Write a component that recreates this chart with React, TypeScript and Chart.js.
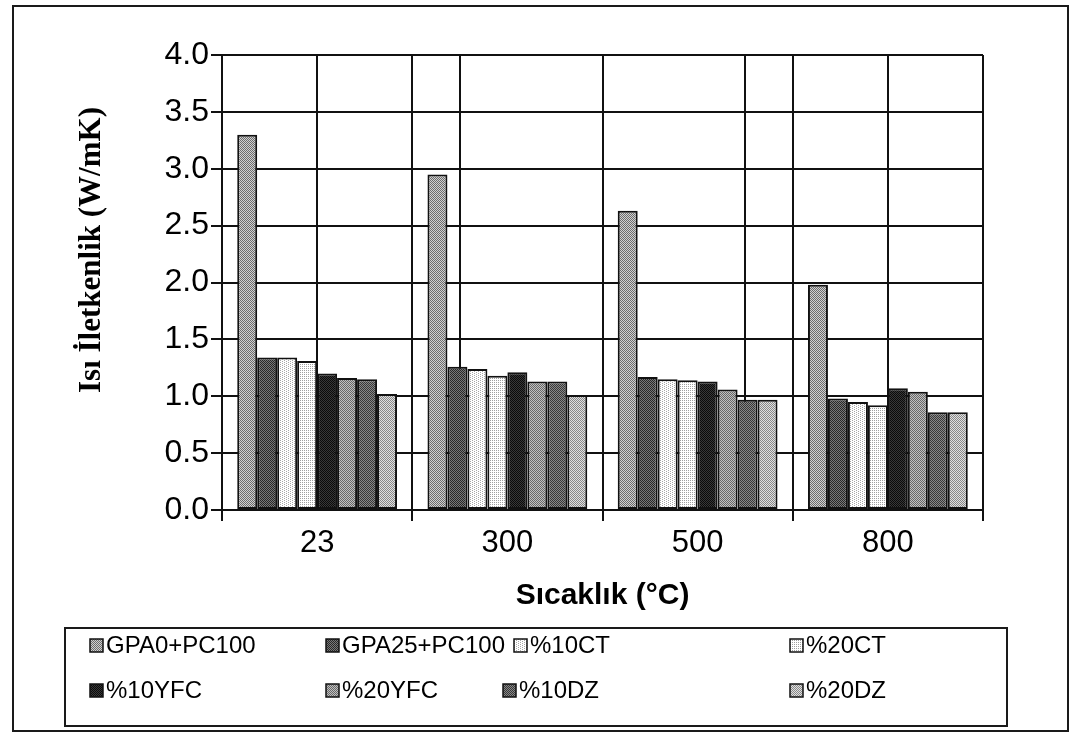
import React, { useEffect, useRef } from "react";
import { Chart, registerables } from "chart.js";

Chart.register(...registerables);

// ---- data ----
const categories = ["23", "300", "500", "800"];
const seriesNames = ["GPA0+PC100", "GPA25+PC100", "%10CT", "%20CT", "%10YFC", "%20YFC", "%10DZ", "%20DZ"];
const gpa0 = [3.3, 2.95, 2.63, 1.98];
const gpa25 = [1.34, 1.26, 1.17, 0.98];
const ct10 = [1.34, 1.24, 1.15, 0.95];
const ct20 = [1.31, 1.18, 1.14, 0.92];
const yfc10 = [1.2, 1.21, 1.13, 1.07];
const yfc20 = [1.16, 1.13, 1.06, 1.04];
const dz10 = [1.15, 1.13, 0.97, 0.86];
const dz20 = [1.02, 1.01, 0.97, 0.86];
const yTicks = [0, 0.5, 1, 1.5, 2, 2.5, 3, 3.5, 4];
const yTitle = "Isı İletkenlik (W/mK)";
const xTitle = "Sıcaklık (°C)";

// dither styles: [base, dot, mode]
const patternDefs: [string, string, string][] = [
  ["#d0d0d0", "#6c6c6c", "checker"],
  ["#787878", "#282828", "checker"],
  ["#ffffff", "#a8a8a8", "sparse8"],
  ["#ffffff", "#a0a0a0", "sparse4"],
  ["#383838", "#0a0a0a", "checker"],
  ["#c0c0c0", "#686868", "checker"],
  ["#888888", "#383838", "checker"],
  ["#e0e0e0", "#888888", "checker"],
];

function makePattern(ctx: CanvasRenderingContext2D, base: string, dot: string, mode: string) {
  const c = document.createElement("canvas");
  c.width = 4;
  c.height = 4;
  const g = c.getContext("2d")!;
  g.fillStyle = base;
  g.fillRect(0, 0, 4, 4);
  g.fillStyle = dot;
  for (let y = 0; y < 4; y++) {
    for (let x = 0; x < 4; x++) {
      let on = false;
      if (mode === "checker") on = (x + y) % 2 === 0;
      else if (mode === "sparse4") on = x % 2 === 0 && y % 2 === 0;
      else if (mode === "sparse8") on = (x % 4 === 0 && y % 2 === 0) || (x % 4 === 2 && y % 2 === 1);
      if (on) g.fillRect(x, y, 1, 1);
    }
  }
  return ctx.createPattern(c, "repeat")!;
}

const FONT_SANS = '"Liberation Sans", Arial, sans-serif';
const FONT_SERIF = '"Liberation Serif", "Times New Roman", serif';

const legendCols = [
  [90, 326, 514, 790],
  [90, 326, 503, 790],
];
const legendRows = [645, 690];

const frameLegendPlugin = {
  id: "frameLegend",
  beforeDraw(chart: any) {
    const ctx = chart.ctx;
    ctx.save();
    ctx.fillStyle = "#ffffff";
    ctx.fillRect(0, 0, chart.width, chart.height);
    ctx.restore();
  },
  afterDraw(chart: any) {
    const ctx = chart.ctx as CanvasRenderingContext2D;
    ctx.save();
    ctx.strokeStyle = "#1a1a1a";
    ctx.lineWidth = 2;
    ctx.strokeRect(13, 6, 1055, 725);
    ctx.strokeRect(65, 628, 942, 98);

    // y axis title
    ctx.save();
    ctx.translate(92, 250);
    ctx.rotate(-Math.PI / 2);
    ctx.fillStyle = "#000";
    ctx.font = `bold 31px ${FONT_SERIF}`;
    ctx.textAlign = "center";
    ctx.textBaseline = "middle";
    ctx.fillText(yTitle, 0, 0);
    ctx.restore();

    chart.data.datasets.forEach((ds: any, i: number) => {
      const row = Math.floor(i / 4);
      const x = legendCols[row][i % 4];
      const y = legendRows[row];
      ctx.fillStyle = ds.backgroundColor;
      ctx.fillRect(x, y - 6, 13, 13);
      ctx.lineWidth = 1.5;
      ctx.strokeStyle = "#111";
      ctx.strokeRect(x, y - 6, 13, 13);
      ctx.fillStyle = "#000";
      ctx.font = `24px ${FONT_SANS}`;
      ctx.textBaseline = "middle";
      ctx.textAlign = "left";
      ctx.fillText(ds.label, x + 16, y + 1);
    });
    ctx.restore();
  },
};

export default function App() {
  const ref = useRef<HTMLCanvasElement | null>(null);

  useEffect(() => {
    document.body.style.margin = "0";
    const canvas = ref.current!;
    const ctx = canvas.getContext("2d")!;
    const seriesValues = [gpa0, gpa25, ct10, ct20, yfc10, yfc20, dz10, dz20];
    const datasets = seriesValues.map((vals, i) => ({
      label: seriesNames[i],
      data: vals,
      backgroundColor: makePattern(ctx, patternDefs[i][0], patternDefs[i][1], patternDefs[i][2]),
      borderColor: "#111",
      borderWidth: 2,
      borderSkipped: false,
      categoryPercentage: 0.84,
      barPercentage: 1.0,
      xAxisID: "x",
      yAxisID: "y",
    }));

    const chart = new Chart(ctx, {
      type: "bar",
      data: { labels: categories, datasets },
      plugins: [frameLegendPlugin],
      options: {
        animation: false,
        responsive: false,
        devicePixelRatio: 1,
        layout: { padding: { left: 60, right: 90, top: 55, bottom: 120 } },
        plugins: {
          legend: { display: false },
          tooltip: { enabled: false },
        },
        scales: {
          x: {
            type: "category",
            offset: true,
            grid: {
              offset: true,
              color: "#111",
              lineWidth: 2,
              tickLength: 11,
              drawOnChartArea: true,
              drawTicks: true,
            },
            border: { display: true, color: "#111", width: 2 },
            ticks: {
              color: "#000",
              font: { family: FONT_SANS, size: 31 },
              padding: 4,
              maxRotation: 0,
            },
            title: {
              display: true,
              text: xTitle,
              color: "#000",
              font: { family: FONT_SANS, size: 30, weight: "bold" },
              padding: { top: 0, bottom: 6 },
            },
            afterFit: (s: any) => {
              s.height = 110;
            },
          },
          xc: {
            type: "linear",
            position: "top",
            min: -0.5,
            max: 3.5,
            afterBuildTicks: (s: any) => {
              s.ticks = categories.map((_, i) => ({ value: i }));
            },
            ticks: { display: false },
            grid: { drawTicks: false, color: "#111", lineWidth: 2 },
            border: { display: false },
            afterFit: (s: any) => {
              s.height = 0;
            },
          },
          y: {
            type: "linear",
            min: 0,
            max: 4,
            afterBuildTicks: (s: any) => {
              s.ticks = yTicks.map((v) => ({ value: v }));
            },
            ticks: {
              color: "#000",
              font: { family: FONT_SANS, size: 32 },
              padding: 2,
              callback: (v: any) => Number(v).toFixed(1),
            },
            grid: { color: "#111", lineWidth: 2, tickLength: 11 },
            border: { display: true, color: "#111", width: 2 },
            title: { display: false },
            afterFit: (s: any) => {
              s.width = 162;
            },
          },
        },
      },
    } as any);

    return () => {
      chart.destroy();
    };
  }, []);

  return (
    <div style={{ width: 1073, height: 740 }}>
      <canvas ref={ref} width={1073} height={740} style={{ width: 1073, height: 740, display: "block" }} />
    </div>
  );
}
